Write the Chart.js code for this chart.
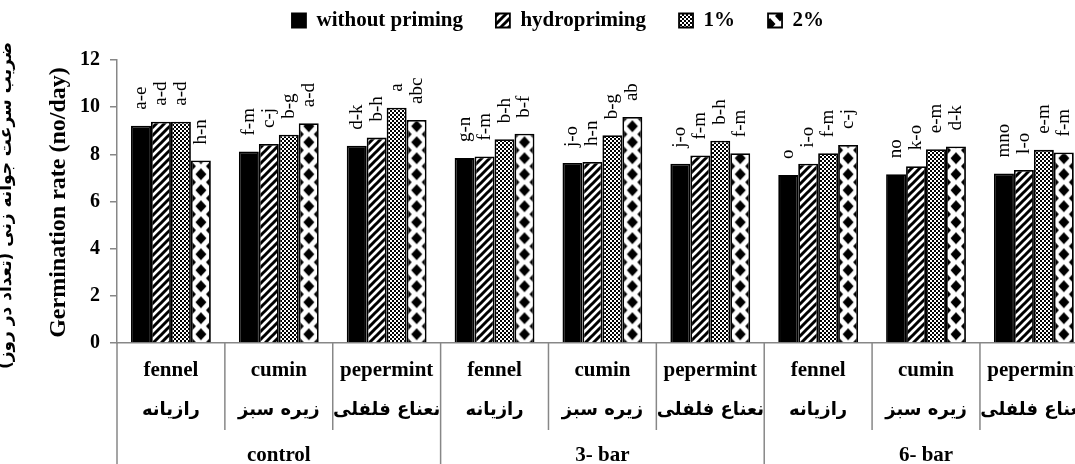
<!DOCTYPE html>
<html>
<head>
<meta charset="utf-8">
<script src="https://cdn.jsdelivr.net/npm/chart.js@4.4.0/dist/chart.umd.min.js"></script>
<style>
  html, body { margin: 0; padding: 0; background: #fff; overflow: hidden; }
  #wrap { width: 1075px; height: 464px; overflow: hidden; }
</style>
</head>
<body>
<div id="wrap"><canvas id="chart" width="1096" height="464"></canvas></div>
<script>
const plants = ["fennel", "cumin", "pepermint", "fennel", "cumin", "pepermint", "fennel", "cumin", "pepermint"];
const plantsFa = ["رازیانه", "زیره سبز", "نعناع فلفلی", "رازیانه", "زیره سبز", "نعناع فلفلی", "رازیانه", "زیره سبز", "نعناع فلفلی"];
const stress = ["control", "3- bar", "6- bar"];
const seriesNames = ["without priming", "hydropriming", "1%", "2%"];

const withoutPriming = [9.21, 8.12, 8.36, 7.84, 7.63, 7.60, 7.12, 7.16, 7.19];
const hydropriming   = [9.38, 8.44, 8.71, 7.91, 7.68, 7.95, 7.60, 7.50, 7.34];
const priming1       = [9.38, 8.83, 9.98, 8.64, 8.81, 8.58, 8.05, 8.22, 8.19];
const priming2       = [7.74, 9.32, 9.46, 8.87, 9.58, 8.05, 8.40, 8.33, 8.08];

const lettersWithout = ["a-e", "f-m", "d-k", "g-n", "j-o", "j-o", "o", "no", "mno"];
const lettersHydro   = ["a-d", "c-j", "b-h", "f-m", "h-n", "f-m", "i-o", "k-o", "l-o"];
const letters1       = ["a-d", "b-g", "a", "b-h", "b-g", "b-h", "f-m", "e-m", "e-m"];
const letters2       = ["h-n", "a-d", "abc", "b-f", "ab", "f-m", "c-j", "d-k", "f-m"];

const yMax = 12;
const yStep = 2;
const titleFa = "ضریب سرعت جوانه زنی (تعداد در روز)";
const titleEn = "Germination rate (no/day)";

const axisGray = "#878787";
const serif = "'Liberation Serif', 'Times New Roman', serif";
const persianFont = "'DejaVu Sans', sans-serif";

Chart.defaults.color = "#000";

const canvas = document.getElementById("chart");
const ctx = canvas.getContext("2d");

// pattern tiles
function makeTile(w, h, draw) {
  const c = document.createElement("canvas");
  c.width = w;
  c.height = h;
  const g = c.getContext("2d");
  g.fillStyle = "#fff";
  g.fillRect(0, 0, w, h);
  g.fillStyle = "#000";
  g.strokeStyle = "#000";
  draw(g);
  return c;
}

const hatchTile = makeTile(8, 8, (g) => {
  g.lineWidth = 3;
  g.beginPath();
  g.moveTo(-1, 9); g.lineTo(9, -1);
  g.moveTo(-5, 5); g.lineTo(5, -5);
  g.moveTo(3, 13); g.lineTo(13, 3);
  g.stroke();
});

const checkTile = makeTile(4, 4, (g) => {
  g.fillRect(0, 0, 2, 2);
  g.fillRect(2, 2, 2, 2);
});

function diamond(g, cx, cy, rx, ry) {
  g.beginPath();
  g.moveTo(cx, cy - ry);
  g.lineTo(cx + rx, cy);
  g.lineTo(cx, cy + ry);
  g.lineTo(cx - rx, cy);
  g.closePath();
  g.fill();
}

const dotTile = makeTile(20, 16, (g) => {
  diamond(g, 10, 8, 5.5, 6);
  [[0, 0], [20, 0], [0, 16], [20, 16]].forEach(([cx, cy]) => diamond(g, cx, cy, 5, 5.5));
});

const hatch = ctx.createPattern(hatchTile, "repeat");
const check = ctx.createPattern(checkTile, "repeat");
const dots = ctx.createPattern(dotTile, "repeat");

const seriesLetters = [lettersWithout, lettersHydro, letters1, letters2];

// legend height so the plot starts at the right place
const legendFit = {
  id: "legendFit",
  beforeInit(chart) {
    if (!chart.legend) return;
    const fit = chart.legend.fit;
    chart.legend.fit = function () {
      fit.call(this);
      this.height = 83;
    };
  },
};

// line the 2% pattern up with each bar
const alignDots = {
  id: "alignDots",
  beforeDatasetDraw(chart, args) {
    if (args.index !== 3) return;
    args.meta.data.forEach((el) => {
      const p = ctx.createPattern(dotTile, "repeat");
      p.setTransform(new DOMMatrix().translate(el.x - el.width / 2, el.base));
      el.options = Object.assign({}, el.options, { backgroundColor: p });
    });
  },
};

const letterLabels = {
  id: "letterLabels",
  afterDatasetsDraw(chart) {
    const c = chart.ctx;
    c.save();
    c.font = "19px " + serif;
    c.fillStyle = "#000";
    c.textAlign = "left";
    c.textBaseline = "alphabetic";
    seriesLetters.forEach((letters, d) => {
      chart.getDatasetMeta(d).data.forEach((el, i) => {
        c.save();
        c.translate(el.x, el.y - 16);
        c.rotate(-Math.PI / 2);
        c.fillText(letters[i], 0, 5);
        c.restore();
      });
    });
    c.restore();
  },
};

const dividers = {
  id: "dividers",
  afterDraw(chart) {
    const { chartArea, scales } = chart;
    const c = chart.ctx;
    const x = scales.x;
    const perGroup = plants.length / stress.length;
    c.save();
    c.strokeStyle = axisGray;
    c.lineWidth = 1.5;
    for (let i = 0; i <= plants.length; i++) {
      const px = x.getPixelForValue(i - 0.5);
      const end = i % perGroup === 0 ? scales.xStress.bottom : scales.xFa.bottom;
      c.beginPath();
      c.moveTo(px, chartArea.bottom);
      c.lineTo(px, end);
      c.stroke();
    }
    c.restore();
  },
};

const yTitle = {
  id: "yTitle",
  afterDraw(chart) {
    const { left, top, bottom } = chart.chartArea;
    const c = chart.ctx;
    const cy = (top + bottom) / 2 + 4;
    c.save();
    c.fillStyle = "#000";
    c.textAlign = "center";
    c.textBaseline = "middle";

    c.save();
    c.translate(left - 110, cy);
    c.rotate(-Math.PI / 2);
    c.direction = "rtl";
    c.font = "bold 17px " + persianFont;
    c.fillText(titleFa, 0, 0);
    c.restore();

    c.save();
    c.translate(left - 58, cy - 3);
    c.rotate(-Math.PI / 2);
    c.font = "bold 24px " + serif;
    c.fillText(titleEn, 0, 0);
    c.restore();

    c.restore();
  },
};

const chart = new Chart(canvas, {
  type: "bar",
  data: {
    labels: plants,
    datasets: [
      { label: seriesNames[0], data: withoutPriming, backgroundColor: "#000" },
      { label: seriesNames[1], data: hydropriming, backgroundColor: hatch },
      { label: seriesNames[2], data: priming1, backgroundColor: check },
      { label: seriesNames[3], data: priming2, backgroundColor: dots },
    ],
  },
  options: {
    responsive: false,
    animation: false,
    layout: { padding: { left: 20, top: -23, right: 0, bottom: 0 } },
    datasets: {
      bar: { categoryPercentage: 0.74, barPercentage: 1, borderColor: "#000", borderWidth: 1.8 },
    },
    plugins: {
      legend: {
        position: "top",
        labels: {
          boxWidth: 14,
          boxHeight: 14,
          padding: 33,
          color: "#000",
          font: { family: serif, size: 21, weight: "bold" },
        },
      },
      tooltip: { enabled: false },
    },
    scales: {
      x: {
        weight: 1,
        grid: { drawOnChartArea: false, drawTicks: false },
        border: { color: axisGray, width: 1.5 },
        ticks: {
          color: "#000",
          padding: 15,
          maxRotation: 0,
          autoSkip: false,
          font: { family: serif, size: 21, weight: "bold" },
        },
        afterFit: (s) => { s.height = 49; },
      },
      xFa: {
        type: "category",
        labels: plantsFa,
        offset: true,
        position: "bottom",
        weight: 2,
        grid: { display: false, drawTicks: false },
        border: { display: false },
        ticks: {
          color: "#000",
          padding: 8,
          maxRotation: 0,
          autoSkip: false,
          font: { family: persianFont, size: 18, weight: "bold" },
        },
        afterFit: (s) => { s.height = 38; },
      },
      xStress: {
        type: "category",
        labels: stress,
        offset: true,
        position: "bottom",
        weight: 3,
        grid: { display: false, drawTicks: false },
        border: { display: false },
        ticks: {
          color: "#000",
          padding: 13,
          maxRotation: 0,
          autoSkip: false,
          font: { family: serif, size: 21, weight: "bold" },
        },
        afterFit: (s) => { s.height = 34; },
      },
      y: {
        min: 0,
        max: yMax,
        grid: { drawOnChartArea: false, color: axisGray, tickLength: 7, lineWidth: 1.5 },
        border: { color: axisGray, width: 1.5 },
        ticks: {
          stepSize: yStep,
          padding: 10,
          color: "#000",
          font: { family: serif, size: 20, weight: "bold" },
        },
        afterFit: (s) => { s.width = 97; },
      },
    },
  },
  plugins: [legendFit, alignDots, letterLabels, dividers, yTitle],
});
</script>
</body>
</html>
